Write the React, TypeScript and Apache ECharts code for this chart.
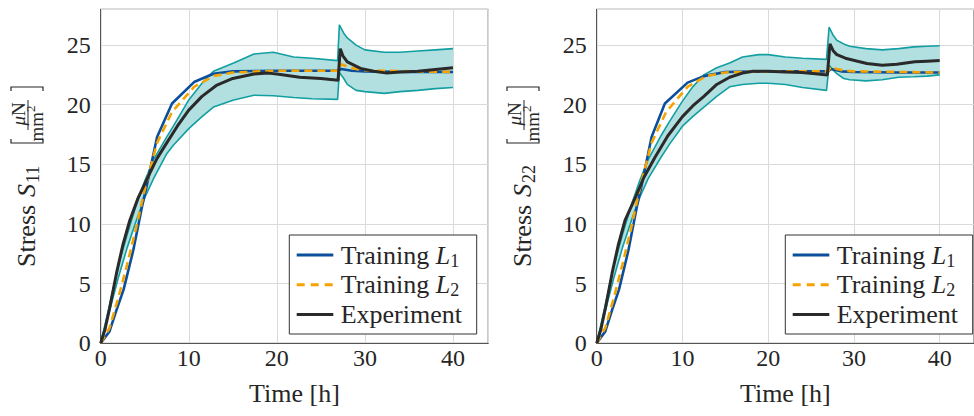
import React, { useEffect, useRef } from 'react';
import * as echarts from 'echarts';

const FAMILY = 'Liberation Serif';
const FONT = '"Liberation Serif", serif';
const TEXT = '#262626';
const BLUE = '#0b4f9c';
const ORANGE = '#f5a300';
const BLACK = '#2a2a2a';
const TEAL = '#139ea1';
const BAND_FILL = '#b2e0e1';

const LEGEND_NAMES = ['Training L1', 'Training L2', 'Experiment'];
const X_NAME = 'Time [h]';

// ---------- Left panel: S11 ----------
const S11_L1_TIME = [0, 1, 1.8, 2.6, 3.7, 4.7, 5.2, 6.4, 8.1, 10.6, 12.8, 15, 20, 27, 27.3, 28.5, 30, 35, 40];
const S11_L1 = [0, 1.0, 2.8, 4.5, 7.8, 11.5, 13.1, 17.3, 20.1, 21.9, 22.6, 22.8, 22.85, 22.85, 23.0, 22.85, 22.8, 22.75, 22.75];
const S11_L2_TIME = [0, 1, 2, 3, 4, 5, 6.4, 8.1, 10.6, 12.8, 15, 20, 27, 27.3, 28, 29, 30, 35, 40];
const S11_L2 = [0, 1.3, 3.8, 6.6, 9.6, 12.9, 16.8, 19.4, 21.5, 22.4, 22.7, 22.85, 22.85, 23.4, 23.2, 23.0, 22.9, 22.8, 22.75];
const S11_EXP_TIME = [0, 0.5, 1, 1.8, 2.5, 3.3, 4.2, 5.4, 6.4, 7.5, 8.7, 10, 11.5, 13.2, 15, 17.4, 19, 20, 22.6, 25, 26.95, 27.2, 27.5, 28, 29.5, 31, 32.5, 34, 36, 38, 40];
const S11_EXP = [0, 1.2, 2.9, 5.9, 8.2, 10.3, 12.1, 14.0, 15.5, 16.8, 18.2, 19.55, 20.7, 21.65, 22.2, 22.57, 22.65, 22.57, 22.3, 22.2, 22.05, 24.7, 24.1, 23.6, 23.05, 22.8, 22.65, 22.75, 22.8, 22.95, 23.1];
const S11_BAND_TIME = [0, 1, 2, 3, 4, 5, 6, 7.5, 8.25, 10, 11.5, 12.8, 15.1, 17.4, 19.6, 21.9, 24, 26.9, 27.1, 27.6, 28, 29, 30, 32.2, 34, 36, 38, 40];
const S11_BAND_UPPER = [0, 3.2, 6.5, 9.1, 11.5, 13.6, 15.4, 17.3, 18.2, 20.4, 21.8, 22.8, 23.5, 24.25, 24.4, 24.0, 23.9, 23.7, 26.7, 26.0, 25.6, 25.0, 24.6, 24.4, 24.4, 24.5, 24.6, 24.7];
const S11_BAND_LOWER = [0, 2.7, 5.5, 8.0, 10.2, 12.2, 13.8, 15.9, 16.6, 18.0, 19.0, 19.8, 20.4, 20.8, 20.75, 20.6, 20.5, 20.45, 22.7, 22.2, 21.7, 21.2, 21.1, 20.95, 21.1, 21.2, 21.35, 21.45];

// ---------- Right panel: S22 ----------
const S22_L1_TIME = [0, 1, 1.8, 2.6, 3.7, 4.7, 5.2, 6.4, 7.95, 10.6, 12.5, 15, 20, 27, 27.3, 28.5, 30, 35, 40];
const S22_L1 = [0, 1.0, 2.8, 4.5, 7.8, 11.5, 13.1, 17.3, 20.1, 21.85, 22.4, 22.75, 22.8, 22.8, 23.0, 22.8, 22.75, 22.7, 22.7];
const S22_L2_TIME = [0, 1, 2, 3, 4, 5, 6.4, 8.1, 10.6, 12.8, 15, 20, 27, 27.3, 28, 29, 30, 35, 40];
const S22_L2 = [0, 1.3, 3.8, 6.6, 9.6, 12.9, 16.8, 19.4, 21.5, 22.4, 22.7, 22.8, 22.8, 23.2, 23.0, 22.85, 22.8, 22.75, 22.7];
const S22_EXP_TIME = [0, 0.5, 1, 1.8, 2.5, 3.3, 4.55, 5.5, 6.8, 8.3, 10, 11.2, 12.5, 14, 15.5, 17, 18.2, 20, 22, 23.9, 25.5, 26.9, 27.2, 27.6, 28, 29, 30.3, 31.5, 33.3, 35, 37.1, 38.5, 40];
const S22_EXP = [0, 1.2, 2.9, 5.9, 8.2, 10.3, 12.3, 13.9, 15.6, 17.4, 19.0, 19.9, 20.7, 21.7, 22.3, 22.65, 22.8, 22.8, 22.75, 22.7, 22.6, 22.5, 25.1, 24.5, 24.2, 23.9, 23.66, 23.45, 23.3, 23.4, 23.6, 23.65, 23.7];
const S22_BAND_TIME = [0, 1, 2, 3, 4, 5, 6, 7.5, 8.5, 10, 11.2, 12.5, 14, 15.5, 17, 18.9, 20, 22, 24, 26.8, 27.1, 27.6, 28, 28.8, 29.5, 31.4, 33.3, 35.2, 37, 38.5, 40];
const S22_BAND_UPPER = [0, 3.2, 6.5, 9.1, 11.5, 13.6, 15.4, 17.4, 18.6, 20.3, 21.5, 22.5, 23.1, 23.5, 24.0, 24.2, 24.2, 24.0, 23.9, 23.8, 26.5, 25.8, 25.4, 25.1, 24.9, 24.7, 24.6, 24.7, 24.85, 24.9, 24.95];
const S22_BAND_LOWER = [0, 2.7, 5.5, 8.0, 10.2, 12.2, 13.8, 15.6, 16.7, 18.2, 19.0, 19.8, 20.7, 21.5, 21.7, 21.8, 21.8, 21.7, 21.45, 21.2, 23.3, 22.9, 22.6, 22.2, 22.1, 22.0, 22.1, 22.3, 22.35, 22.4, 22.5];

const X_MAX = 44;
const Y_MAX = 28;

const zip = (t: number[], v: number[]) => t.map((x, i) => [x, v[i]]);

type Panel = {
  l1t: number[]; l1: number[]; l2t: number[]; l2: number[];
  et: number[]; e: number[]; bt: number[]; bu: number[]; bl: number[]; sub: string;
};

const PANELS: Panel[] = [
  { l1t: S11_L1_TIME, l1: S11_L1, l2t: S11_L2_TIME, l2: S11_L2, et: S11_EXP_TIME, e: S11_EXP, bt: S11_BAND_TIME, bu: S11_BAND_UPPER, bl: S11_BAND_LOWER, sub: '11' },
  { l1t: S22_L1_TIME, l1: S22_L1, l2t: S22_L2_TIME, l2: S22_L2, et: S22_EXP_TIME, e: S22_EXP, bt: S22_BAND_TIME, bu: S22_BAND_UPPER, bl: S22_BAND_LOWER, sub: '22' },
];

const GRID_LEFT = [100.7, 596.7];
const GRID_TOP = 9.3;
const GRID_W = 387.5;
const GRID_H = 334;

function yLabel(cx: number, cy: number, sub: string) {
  const fc = 62;
  return {
    type: 'group', x: cx, y: cy, rotation: Math.PI / 2, silent: true,
    children: [
      { type: 'text', x: -90, y: 1.5, style: { text: 'Stress', font: `26px ${FONT}`, fill: TEXT, align: 'left', verticalAlign: 'middle' } },
      { type: 'text', x: -20, y: 1.5, style: { text: 'S', font: `italic 26px ${FONT}`, fill: TEXT, align: 'left', verticalAlign: 'middle' } },
      { type: 'text', x: -6, y: 8, style: { text: sub, font: `18px ${FONT}`, fill: TEXT, align: 'left', verticalAlign: 'middle' } },
      { type: 'polyline', shape: { points: [[38, -14], [34, -14], [34, 18], [38, 18]] }, style: { stroke: TEXT, lineWidth: 1.2, fill: 'none' } },
      { type: 'polyline', shape: { points: [[86, -14], [90, -14], [90, 18], [86, 18]] }, style: { stroke: TEXT, lineWidth: 1.2, fill: 'none' } },
      { type: 'line', shape: { x1: fc - 15, y1: 3, x2: fc + 15, y2: 3 }, style: { stroke: TEXT, lineWidth: 1 } },
      { type: 'text', x: fc - 1, y: -7, style: { text: 'μ', font: `italic 19px ${FONT}`, fill: TEXT, align: 'right', verticalAlign: 'middle' } },
      { type: 'text', x: fc - 1, y: -7, style: { text: 'N', font: `19px ${FONT}`, fill: TEXT, align: 'left', verticalAlign: 'middle' } },
      { type: 'text', x: fc + 3, y: 11, style: { text: 'mm', font: `19px ${FONT}`, fill: TEXT, align: 'right', verticalAlign: 'middle' } },
      { type: 'text', x: fc + 3, y: 5, style: { text: '2', font: `13px ${FONT}`, fill: TEXT, align: 'left', verticalAlign: 'middle' } },
    ],
  };
}

function legendBox(x0: number, y0: number) {
  const rows = [
    { color: BLUE, dash: null as number[] | null, text: '{a|Training }{i|L}{s|1}' },
    { color: ORANGE, dash: [8, 6], text: '{a|Training }{i|L}{s|2}' },
    { color: BLACK, dash: null, text: '{a|Experiment}' },
  ];
  const rich = {
    a: { fontFamily: FAMILY, fontSize: 26, lineHeight: 29, fill: TEXT },
    i: { fontFamily: FAMILY, fontSize: 26, fontStyle: 'italic', lineHeight: 29, fill: TEXT },
    s: { fontFamily: FAMILY, fontSize: 18, lineHeight: 18, verticalAlign: 'bottom', fill: TEXT },
  };
  const children: any[] = [
    { type: 'rect', z: 100, shape: { x: 0, y: 0, width: 187.4, height: 99 }, style: { fill: '#fff', stroke: '#333', lineWidth: 1 } },
  ];
  rows.forEach((r, i) => {
    const cy = 20 + i * 29.7;
    children.push({ type: 'line', z: 101, shape: { x1: 7.4, y1: cy, x2: 44, y2: cy }, style: { stroke: r.color, lineWidth: 3, lineDash: r.dash || undefined } });
    children.push({ type: 'text', z: 101, x: 51.4, y: cy, style: { text: r.text, rich, font: `26px ${FONT}`, fill: TEXT, align: 'left', verticalAlign: 'middle' } });
  });
  return { type: 'group', x: x0, y: y0, z: 100, children };
}

export default function App() {
  const ref = useRef<HTMLDivElement>(null);
  useEffect(() => {
    if (!ref.current) return;
    const chart = echarts.init(ref.current, null, { renderer: 'svg', width: 974, height: 416 });
    const grid: any[] = [];
    const xAxis: any[] = [];
    const yAxis: any[] = [];
    const series: any[] = [];
    PANELS.forEach((p, g) => {
      grid.push({ left: GRID_LEFT[g], top: GRID_TOP, width: GRID_W, height: GRID_H, show: true, borderColor: '#555', borderWidth: 1, containLabel: false });
      xAxis.push({
        type: 'value', gridIndex: g, min: 0, max: X_MAX, interval: 10,
        axisLine: { show: true, lineStyle: { color: '#555', width: 1 } },
        axisTick: { show: false },
        splitLine: { show: true, lineStyle: { color: '#dadada', width: 1 } },
        axisLabel: { fontFamily: FAMILY, fontSize: 24, color: TEXT, margin: 3, showMaxLabel: false },
        name: X_NAME, nameLocation: 'middle', nameGap: 37,
        nameTextStyle: { fontFamily: FAMILY, fontSize: 26, color: TEXT },
      });
      yAxis.push({
        type: 'value', gridIndex: g, min: 0, max: Y_MAX, interval: 5,
        axisLine: { show: true, lineStyle: { color: '#555', width: 1 } },
        axisTick: { show: false },
        splitLine: { show: true, lineStyle: { color: '#dadada', width: 1 } },
        axisLabel: { fontFamily: FAMILY, fontSize: 24, color: TEXT, margin: 10, showMaxLabel: false },
      });
      const bt = p.bt, bu = p.bu, bl = p.bl;
      series.push({
        type: 'custom', xAxisIndex: g, yAxisIndex: g, silent: true, z: 1,
        data: [[bt[0], bl[0]]],
        renderItem: (_params: any, api: any) => {
          const pts: number[][] = [];
          for (let i = 0; i < bt.length; i++) pts.push(api.coord([bt[i], bu[i]]));
          for (let i = bt.length - 1; i >= 0; i--) pts.push(api.coord([bt[i], bl[i]]));
          return { type: 'polygon', shape: { points: pts }, style: { fill: BAND_FILL, stroke: 'none' } };
        },
      });
      series.push({ type: 'line', name: 'band upper', xAxisIndex: g, yAxisIndex: g, data: zip(bt, bu), symbol: 'none', z: 2, lineStyle: { color: TEAL, width: 1.6 } });
      series.push({ type: 'line', name: 'band lower', xAxisIndex: g, yAxisIndex: g, data: zip(bt, bl), symbol: 'none', z: 2, lineStyle: { color: TEAL, width: 1.6 } });
      series.push({ type: 'line', name: LEGEND_NAMES[0], xAxisIndex: g, yAxisIndex: g, data: zip(p.l1t, p.l1), symbol: 'none', z: 3, lineStyle: { color: BLUE, width: 2.6 } });
      series.push({ type: 'line', name: LEGEND_NAMES[1], xAxisIndex: g, yAxisIndex: g, data: zip(p.l2t, p.l2), symbol: 'none', z: 4, lineStyle: { color: ORANGE, width: 2.6, type: [8, 5] } });
      series.push({ type: 'line', name: LEGEND_NAMES[2], xAxisIndex: g, yAxisIndex: g, data: zip(p.et, p.e), symbol: 'none', z: 5, lineStyle: { color: BLACK, width: 3 } });
    });
    chart.setOption({
      animation: false,
      backgroundColor: '#fff',
      grid, xAxis, yAxis, series,
      graphic: [
        yLabel(25, 177, PANELS[0].sub),
        yLabel(521, 177, PANELS[1].sub),
        legendBox(289.3, 235),
        legendBox(785.3, 235),
      ],
    });
    return () => chart.dispose();
  }, []);
  return <div ref={ref} style={{ position: 'absolute', left: 0, top: 0, width: 974, height: 416 }} />;
}
